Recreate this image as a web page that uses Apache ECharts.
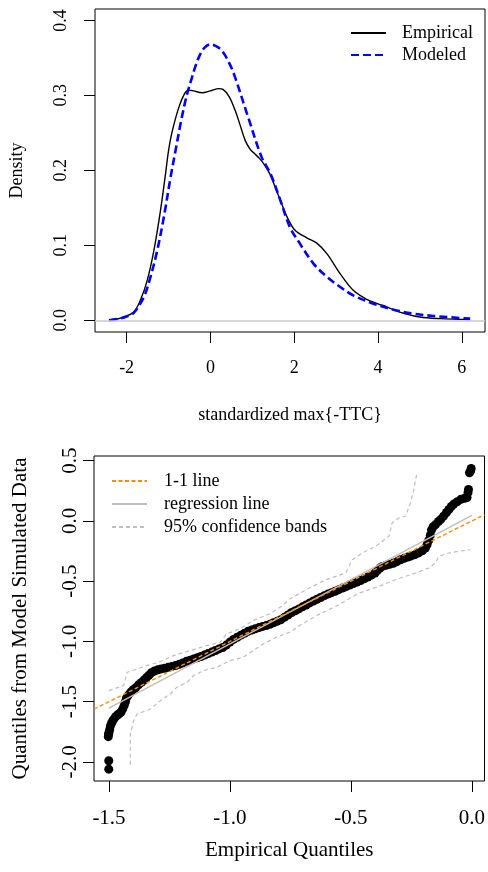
<!DOCTYPE html>
<html>
<head>
<meta charset="utf-8">
<script src="https://cdn.jsdelivr.net/npm/echarts@6/dist/echarts.min.js"></script>
<style>
html,body{margin:0;padding:0;background:#fff;}
#chart{width:488px;height:872px;}
</style>
</head>
<body>
<div id="chart"></div>
<script>
// ---------- Top panel: density curves ----------
const empX = [-2.42,-2.2,-2.06,-1.83,-1.67,-1.51,-1.35,-1.19,-1.07,-1.0,-0.92,-0.76,-0.62,-0.52,-0.4,-0.2,0.0,0.2,0.3,0.45,0.59,0.7,0.83,0.95,1.06,1.17,1.27,1.43,1.55,1.67,1.83,2.02,2.3,2.54,2.78,3.1,3.41,3.73,4.0,4.21,4.52,5.0,5.48,6.2];
const empY = [0.000,0.002,0.0045,0.011,0.027,0.053,0.093,0.147,0.196,0.226,0.250,0.283,0.302,0.307,0.306,0.3035,0.306,0.309,0.308,0.298,0.28,0.262,0.24,0.228,0.222,0.216,0.209,0.194,0.177,0.16,0.138,0.12,0.110,0.103,0.089,0.062,0.04,0.028,0.022,0.018,0.011,0.0044,0.0022,0.001];
const modX = [-2.42,-2.2,-2.0,-1.83,-1.59,-1.43,-1.27,-1.11,-0.95,-0.83,-0.72,-0.6,-0.54,-0.45,-0.35,-0.25,-0.15,0.0,0.12,0.27,0.45,0.59,0.9,1.22,1.43,1.67,1.9,2.14,2.46,2.78,3.1,3.41,3.89,4.37,4.84,5.32,6.2];
const modY = [0.0,0.002,0.005,0.010,0.031,0.058,0.093,0.138,0.191,0.227,0.260,0.292,0.305,0.322,0.340,0.354,0.363,0.368,0.366,0.36,0.343,0.324,0.271,0.218,0.196,0.16,0.124,0.102,0.0756,0.058,0.0444,0.0333,0.0222,0.0142,0.0089,0.0058,0.0022];
const topXTicks = [-2,0,2,4,6];
const topYTicks = [0.0,0.1,0.2,0.3,0.4];
const topXRange = [-2.755, 6.555];
const topYRange = [-0.0156, 0.4152];

// ---------- Bottom panel: QQ plot ----------
const qqX = [-1.501,-1.501,-1.503,-1.502,-1.500,-1.497,-1.494,-1.490,-1.485,-1.480,-1.473,-1.465,-1.458,-1.450,-1.443,-1.437,-1.432,-1.428,-1.420,-1.410,-1.400,-1.390,-1.378,-1.366,-1.355,-1.345,-1.335,-1.325,-1.312,-1.298,-1.285,-1.270,-1.255,-1.240,-1.225,-1.210,-1.195,-1.180,-1.165,-1.150,-1.135,-1.120,-1.105,-1.090,-1.075,-1.060,-1.045,-1.030,-1.015,-1.000,-0.985,-0.970,-0.955,-0.940,-0.925,-0.910,-0.895,-0.880,-0.865,-0.850,-0.835,-0.820,-0.805,-0.790,-0.775,-0.760,-0.745,-0.730,-0.715,-0.700,-0.685,-0.670,-0.655,-0.640,-0.625,-0.610,-0.595,-0.580,-0.565,-0.550,-0.535,-0.520,-0.505,-0.490,-0.475,-0.460,-0.445,-0.430,-0.415,-0.400,-0.390,-0.380,-0.370,-0.355,-0.340,-0.325,-0.310,-0.295,-0.280,-0.265,-0.250,-0.235,-0.220,-0.205,-0.192,-0.185,-0.178,-0.172,-0.167,-0.160,-0.150,-0.138,-0.128,-0.117,-0.105,-0.095,-0.085,-0.075,-0.060,-0.045,-0.030,-0.020,-0.016,-0.014,-0.010,-0.005,-0.003];
const qqY = [-2.06,-1.99,-1.79,-1.77,-1.755,-1.73,-1.70,-1.68,-1.66,-1.644,-1.625,-1.61,-1.60,-1.585,-1.56,-1.53,-1.50,-1.47,-1.445,-1.42,-1.40,-1.385,-1.36,-1.34,-1.32,-1.30,-1.28,-1.26,-1.245,-1.235,-1.228,-1.222,-1.215,-1.207,-1.200,-1.190,-1.178,-1.165,-1.155,-1.145,-1.135,-1.125,-1.112,-1.100,-1.088,-1.075,-1.062,-1.050,-1.030,-1.005,-0.983,-0.965,-0.948,-0.932,-0.915,-0.905,-0.895,-0.885,-0.875,-0.868,-0.858,-0.845,-0.833,-0.820,-0.800,-0.780,-0.760,-0.745,-0.730,-0.713,-0.697,-0.680,-0.664,-0.650,-0.635,-0.620,-0.607,-0.595,-0.583,-0.570,-0.557,-0.545,-0.532,-0.520,-0.508,-0.495,-0.480,-0.465,-0.450,-0.432,-0.410,-0.390,-0.377,-0.368,-0.360,-0.352,-0.338,-0.322,-0.310,-0.300,-0.290,-0.280,-0.265,-0.248,-0.225,-0.195,-0.160,-0.120,-0.075,-0.048,-0.030,-0.005,0.015,0.040,0.070,0.095,0.120,0.140,0.160,0.180,0.188,0.195,0.235,0.262,0.400,0.415,0.435];
const upX = [-1.501,-1.44,-1.432,-1.425,-1.384,-1.343,-1.295,-1.233,-1.165,-1.096,-1.041,-1.014,-0.958,-0.904,-0.835,-0.78,-0.755,-0.686,-0.604,-0.522,-0.494,-0.453,-0.398,-0.343,-0.33,-0.302,-0.274,-0.254,-0.24,-0.227];
const upY = [-1.408,-1.367,-1.311,-1.256,-1.228,-1.2,-1.173,-1.117,-1.076,-1.034,-1.007,-0.937,-0.895,-0.826,-0.77,-0.70,-0.65,-0.571,-0.488,-0.432,-0.321,-0.266,-0.21,-0.127,-0.017,0.025,0.039,0.15,0.261,0.40];
const loX = [-1.412,-1.412,-1.398,-1.384,-1.329,-1.288,-1.247,-1.22,-1.178,-1.151,-1.11,-1.055,-1.0,-0.945,-0.904,-0.862,-0.808,-0.752,-0.714,-0.632,-0.563,-0.467,-0.384,-0.316,-0.233,-0.178,-0.151,-0.137,-0.096,-0.055,-0.007];
const loY = [-2.024,-1.77,-1.658,-1.602,-1.561,-1.492,-1.436,-1.381,-1.339,-1.284,-1.242,-1.215,-1.159,-1.131,-1.076,-1.02,-0.965,-0.923,-0.87,-0.775,-0.71,-0.599,-0.543,-0.488,-0.432,-0.391,-0.349,-0.294,-0.266,-0.252,-0.238];
const regX = [-1.5, 0.0];
const regY = [-1.553, 0.047];
const botXTicks = [-1.5,-1.0,-0.5,0.0];
const botYTicks = [-2.0,-1.5,-1.0,-0.5,0.0,0.5];
const botXRange = [-1.562, 0.0523];
const botYRange = [-2.158, 0.539];

const FONT = 'Liberation Serif';
const zip = (a, b) => a.map((v, i) => [v, b[i]]);

const chart = echarts.init(document.getElementById('chart'), null, {renderer: 'canvas'});

function makeAxis(gridIndex, range, ticks, fontSize, margin, rotate, name, nameGap, fmt) {
  return {
    gridIndex: gridIndex, type: 'value', min: range[0], max: range[1],
    name: name, nameLocation: 'middle', nameGap: nameGap,
    nameTextStyle: {fontFamily: FONT, fontSize: fontSize, color: '#000'},
    axisLine: {show: false, onZero: false},
    splitLine: {show: false},
    axisTick: {show: true, inside: false, length: 11, lineStyle: {color: '#000', width: 1}, customValues: ticks},
    axisLabel: {customValues: ticks, rotate: rotate, fontFamily: FONT, fontSize: fontSize, color: '#000', margin: margin, formatter: fmt}
  };
}

const option = {
  animation: false,
  backgroundColor: '#fff',
  textStyle: {fontFamily: FONT},
  grid: [
    {left: 94, top: 9, width: 391, height: 323, show: true, borderColor: '#000', borderWidth: 1, backgroundColor: 'transparent'},
    {left: 94, top: 456, width: 392, height: 325, show: true, borderColor: '#000', borderWidth: 1, backgroundColor: 'transparent'}
  ],
  legend: [
    {
      orient: 'vertical', left: 350, top: 24, padding: 0, itemWidth: 35, itemHeight: 14, itemGap: 4,
      data: ['Empirical', 'Modeled'],
      itemStyle: {opacity: 0},
      textStyle: {fontFamily: FONT, fontSize: 18, color: '#000', padding: [0, 0, 0, 11]}
    },
    {
      orient: 'vertical', left: 111, top: 472, padding: 0, itemWidth: 35, itemHeight: 14, itemGap: 5,
      data: ['1-1 line', 'regression line', '95% confidence bands'],
      itemStyle: {opacity: 0},
      textStyle: {fontFamily: FONT, fontSize: 18, color: '#000', padding: [0, 0, 0, 12]}
    }
  ],
  xAxis: [
    makeAxis(0, topXRange, topXTicks, 18, 27, 0, 'standardized max{-TTC}', 74, v => String(v)),
    makeAxis(1, botXRange, botXTicks, 21, 27, 0, 'Empirical Quantiles', 59, v => v.toFixed(1))
  ],
  yAxis: [
    makeAxis(0, topYRange, topYTicks, 18, 25, 90, 'Density', 69, v => v.toFixed(1)),
    makeAxis(1, botYRange, botYTicks, 21, 13, 90, 'Quantiles from Model Simulated Data', 63, v => v.toFixed(1))
  ],
  series: [
    {
      name: 'zero', type: 'line', xAxisIndex: 0, yAxisIndex: 0, data: [], silent: true,
      markLine: {silent: true, symbol: 'none', label: {show: false},
        lineStyle: {color: '#c8c8c8', width: 1.5, type: 'solid'}, data: [{yAxis: 0}]}
    },
    {
      name: 'Empirical', type: 'line', xAxisIndex: 0, yAxisIndex: 0,
      data: zip(empX, empY), symbol: 'none', smooth: 0.35,
      lineStyle: {color: '#000', width: 1.4, type: 'solid'}, itemStyle: {color: '#000'}
    },
    {
      name: 'Modeled', type: 'line', xAxisIndex: 0, yAxisIndex: 0,
      data: zip(modX, modY), symbol: 'none', smooth: 0.35,
      lineStyle: {color: '#0000ff', width: 2.6, type: [8, 4]}, itemStyle: {color: '#0000ff'}
    },
    {
      name: 'points', type: 'scatter', xAxisIndex: 1, yAxisIndex: 1,
      data: zip(qqX, qqY), symbol: 'circle', symbolSize: 9, itemStyle: {color: '#000', opacity: 1}
    },
    {
      name: '95% confidence bands', type: 'line', xAxisIndex: 1, yAxisIndex: 1,
      data: zip(upX, upY), symbol: 'none',
      lineStyle: {color: '#bebebe', width: 1.2, type: [4, 3]}, itemStyle: {color: '#bebebe'}
    },
    {
      name: '95% confidence bands', type: 'line', xAxisIndex: 1, yAxisIndex: 1,
      data: zip(loX, loY), symbol: 'none',
      lineStyle: {color: '#bebebe', width: 1.2, type: [4, 3]}, itemStyle: {color: '#bebebe'}
    },
    {
      name: 'regression line', type: 'line', xAxisIndex: 1, yAxisIndex: 1,
      data: zip(regX, regY), symbol: 'none',
      lineStyle: {color: '#bebebe', width: 1.4, type: 'solid'}, itemStyle: {color: '#bebebe'}
    },
    {
      name: '1-1 line', type: 'line', xAxisIndex: 1, yAxisIndex: 1,
      data: [[botXRange[0], botXRange[0]], [botXRange[1], botXRange[1]]], symbol: 'none',
      lineStyle: {color: '#ff8c00', width: 1.4, type: [4, 2.5]}, itemStyle: {color: '#ff8c00'}
    }
  ]
};
chart.setOption(option);
</script>
</body>
</html>
